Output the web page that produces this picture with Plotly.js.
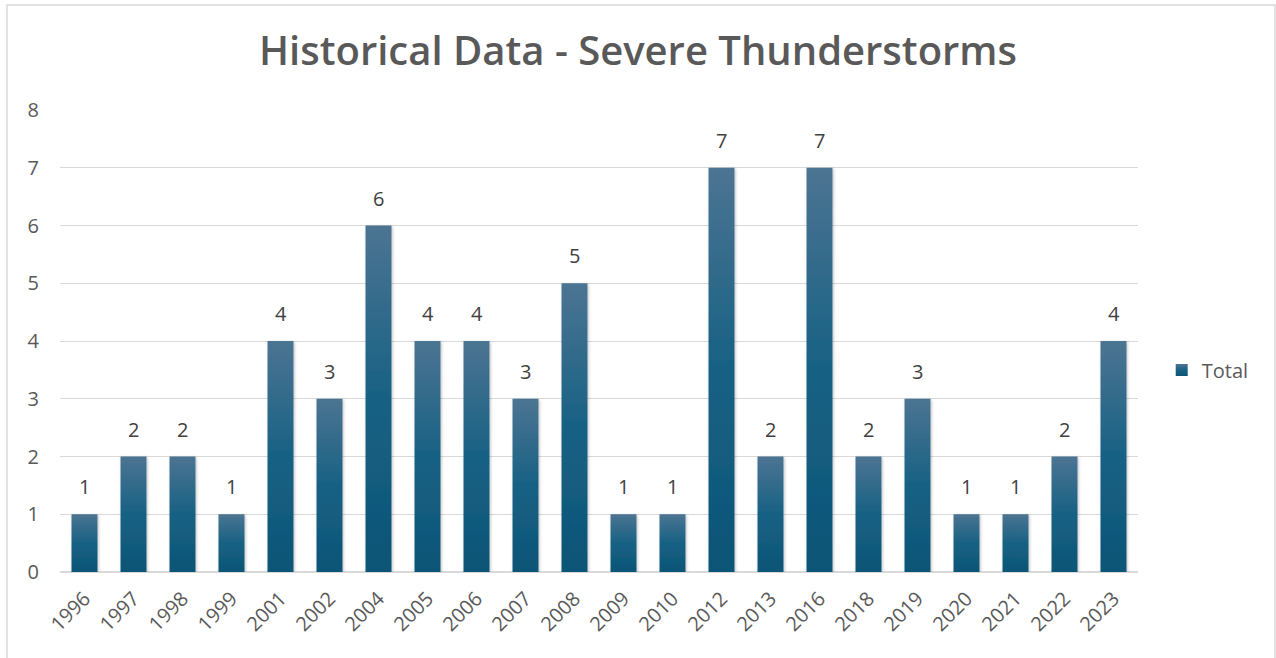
<!DOCTYPE html>
<html>
<head>
<meta charset="utf-8">
<script src="https://cdn.plot.ly/plotly-3.0.1.min.js"></script>
<style>
html,body{margin:0;padding:0;background:#fff;}
#chart{width:1276px;height:658px;}
</style>
</head>
<body>
<div id="chart"></div>
<script>
const years = ["1996","1997","1998","1999","2001","2002","2004","2005","2006","2007","2008","2009","2010","2012","2013","2016","2018","2019","2020","2021","2022","2023"];
const totals = [1,2,2,1,4,3,6,4,4,3,5,1,1,7,2,7,2,3,1,1,2,4];
const yTicks = [0,1,2,3,4,5,6,7,8];
const seriesName = "Total";
const chartTitle = "Historical Data - Severe Thunderstorms";

const FONT = "'Open Sans', 'Noto Sans', sans-serif";

const trace = {
  type: 'bar',
  x: years,
  y: totals,
  name: seriesName,
  marker: {color: '#156082', line: {width: 0}},
  showlegend: true,
  hoverinfo: 'x+y'
};

const annotations = years.map((yr, i) => ({
  x: i, y: totals[i], xref: 'x', yref: 'y',
  text: String(totals[i]), showarrow: false,
  yanchor: 'bottom', yshift: 12,
  font: {family: FONT, size: 20, color: '#404040'}
}));

const layout = {
  width: 1276, height: 658,
  margin: {l: 60, r: 138, t: 110, b: 86},
  paper_bgcolor: '#ffffff', plot_bgcolor: '#ffffff',
  font: {family: FONT, color: '#595959'},
  title: {
    text: chartTitle,
    font: {family: FONT, size: 40, color: '#595959', weight: 600},
    x: 0.5, xanchor: 'center', xref: 'container',
    y: 0.923, yanchor: 'middle'
  },
  bargap: 0.47,
  xaxis: {
    type: 'category',
    categoryorder: 'array', categoryarray: years,
    range: [-0.5, years.length - 0.5], autorange: false,
    tickangle: -45,
    tickfont: {family: FONT, size: 20, color: '#595959'},
    showgrid: false, zeroline: false, showline: false,
    ticks: '', automargin: false, ticklabelstandoff: 10
  },
  yaxis: {
    range: [0, 8], autorange: false,
    tickvals: yTicks,
    tickfont: {family: FONT, size: 20, color: '#595959'},
    showgrid: true, gridcolor: '#d9d9d9', gridwidth: 1,
    zeroline: true, zerolinecolor: '#d9d9d9', zerolinewidth: 1.5,
    showline: false, ticks: '', ticklabelstandoff: 20,
    automargin: false
  },
  legend: {
    x: 1.022, xanchor: 'left', y: 0.437, yanchor: 'middle',
    font: {family: FONT, size: 20, color: '#595959'},
    itemwidth: 30, bgcolor: 'rgba(0,0,0,0)'
  },
  annotations: annotations,
  shapes: [{
    type: 'rect', xref: 'paper', yref: 'paper',
    x0: -0.0492, x1: 1.1271, y0: -0.3, y1: 1.2273,
    line: {color: '#d9d9d9', width: 1.5}, fillcolor: 'rgba(0,0,0,0)', layer: 'below'
  }]
};

Plotly.newPlot('chart', [trace], layout, {displayModeBar: false, staticPlot: true}).then(gd => {
  const svg = gd.querySelector('svg.main-svg');
  const ns = 'http://www.w3.org/2000/svg';
  let defs = svg.querySelector('defs');
  if (!defs) { defs = document.createElementNS(ns, 'defs'); svg.insertBefore(defs, svg.firstChild); }
  const grad = document.createElementNS(ns, 'linearGradient');
  grad.setAttribute('id', 'barGrad');
  grad.setAttribute('x1', '0'); grad.setAttribute('y1', '0');
  grad.setAttribute('x2', '0'); grad.setAttribute('y2', '1');
  [['0', '#4c7492'], ['0.5', '#176184'], ['1', '#0c5576']].forEach(([o, c]) => {
    const s = document.createElementNS(ns, 'stop');
    s.setAttribute('offset', o); s.setAttribute('stop-color', c);
    grad.appendChild(s);
  });
  defs.appendChild(grad);
  const filt = document.createElementNS(ns, 'filter');
  filt.setAttribute('id', 'barShadow');
  filt.setAttribute('x', '-30%'); filt.setAttribute('y', '-10%');
  filt.setAttribute('width', '160%'); filt.setAttribute('height', '120%');
  const ds = document.createElementNS(ns, 'feDropShadow');
  ds.setAttribute('dx', '1'); ds.setAttribute('dy', '1');
  ds.setAttribute('stdDeviation', '1.5');
  ds.setAttribute('flood-color', '#000'); ds.setAttribute('flood-opacity', '0.25');
  filt.appendChild(ds);
  defs.appendChild(filt);
  gd.querySelectorAll('g.trace.bars path.point, g.points path').forEach(p => {
    p.style.fill = 'url(#barGrad)';
    p.setAttribute('filter', 'url(#barShadow)');
  });
  gd.querySelectorAll('g.legend .legendpoints path').forEach(p => {
    p.style.fill = 'url(#barGrad)';
  });
});
</script>
</body>
</html>
